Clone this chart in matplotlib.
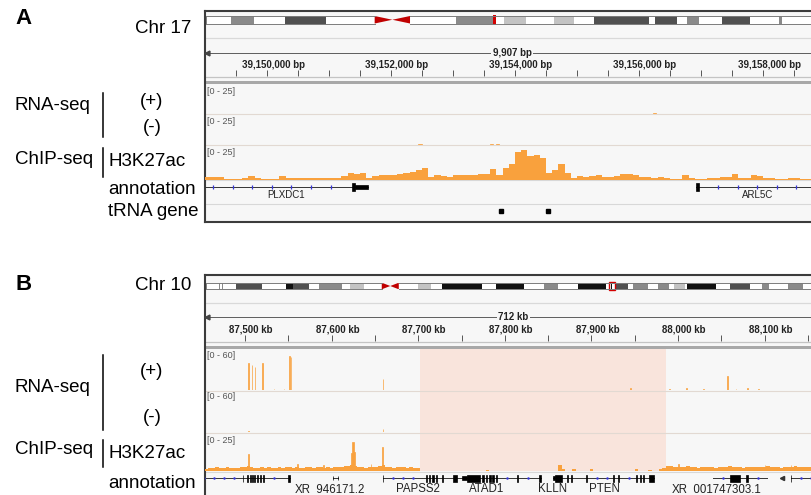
import numpy as np
import matplotlib
matplotlib.use("Agg")
import matplotlib.pyplot as plt
from matplotlib.patches import Rectangle, Polygon
import matplotlib.transforms as mtransforms

plt.rcParams['font.family'] = ['Liberation Sans', 'DejaVu Sans']

# ====================== DATA : panel A (chr17, bp) ======================
A_chrom = "Chr 17"
A_chrom_len_mb = 83.26
A_band_start_mb = [3.39, 10.71, 33.9, 40.5, 47.3, 52.7, 60.9, 65.35, 70.1, 77.8]
A_band_end_mb = [6.51, 16.27, 39.4, 43.4, 49.9, 60.2, 64.0, 66.98, 73.9, 78.2]
A_band_stain = ['gpos50', 'gpos75', 'gpos50', 'gpos25', 'gpos25', 'gpos75',
                'gpos75', 'gpos50', 'gpos75', 'gpos50']
A_centromere_mb = [22.9, 27.7]
A_locus_mb = [39.0, 39.35]
A_view = [39149000, 39158907]
A_span_label = "9,907 bp"
A_tick_step = 500
A_label_step = 2000
A_unit = "bp"
A_ranges = [25, 25, 25]
A_chip_bin = 100
A_chip_values = [1.9, 1.9, 1.9, 0.4, 0.6, 0.6, 1.5, 2.8, 1.0, 0.4,
                 0.4, 0.6, 2.8, 1.5, 0.9, 1.0, 0.8, 1.1, 0.9, 1.0,
                 1.2, 0.9, 2.5, 4.8, 4.6, 4.9, 1.5, 2.5, 3.2, 3.4,
                 3.5, 4.0, 5.5, 5.8, 7.5, 9.5, 2.0, 3.5, 3.0, 1.6,
                 3.6, 3.5, 3.7, 3.6, 4.3, 4.5, 8.0, 3.5, 9.5, 12.5,
                 22.0, 23.5, 19.0, 19.5, 17.0, 5.0, 7.5, 12.0, 5.5, 1.2,
                 2.4, 2.0, 3.0, 3.8, 2.0, 1.6, 3.0, 4.0, 4.0, 3.6,
                 1.6, 1.6, 1.5, 1.7, 1.4, 0.4, 0.6, 3.2, 1.2, 0.6,
                 0.3, 1.2, 1.3, 1.6, 1.6, 4.0, 1.2, 1.2, 3.2, 3.0,
                 1.2, 1.2, 0.4, 0.5, 1.2, 1.2, 0.4, 0.4, 0.4]
A_rna_plus_start = [39156220]
A_rna_plus_end = [39156270]
A_rna_plus_val = [0.6]
A_rna_minus_start = [39152440, 39153600, 39153690]
A_rna_minus_end = [39152500, 39153650, 39153740]
A_rna_minus_val = [0.5, 0.5, 0.5]
A_gene_names = ["PLXDC1", "ARL5C"]
A_gene_start = [39140000, 39156915]
A_gene_end = [39151630, 39170000]
A_exon_start = [[39151370, 39151420], [39156915]]
A_exon_end = [[39151420, 39151630], [39156965]]
A_exon_tall = [[True, False], [True]]
A_trna_pos = [39153774, 39154532]

# ====================== DATA : panel B (chr10, kb) ======================
B_chrom = "Chr 10"
B_chrom_len_mb = 133.8
B_band_start_mb = [2.8, 3.4, 6.5, 17.35, 18.9, 24.5, 31.2, 46.0, 51.4, 63.1, 73.5,
                   80.9, 87.95, 88.9, 92.8, 98.2, 101.7, 104.5, 113.9, 120.8, 126.4]
B_band_end_mb = [3.0, 3.6, 12.1, 18.9, 22.3, 29.5, 34.3, 49.0, 59.9, 69.2, 76.6,
                 87.0, 88.3, 91.7, 96.1, 100.6, 104.1, 110.8, 118.2, 122.3, 129.7]
B_band_stain = ['gpos50', 'gpos50', 'gpos75', 'gpos100', 'gpos75', 'gpos50', 'gpos25',
                'gpos25', 'gpos100', 'gpos100', 'gpos50', 'gpos100', 'gpos100', 'gpos75',
                'gpos50', 'gpos50', 'gpos25', 'gpos100', 'gpos75', 'gpos50', 'gpos50']
B_centromere_mb = [38.2, 41.9]
B_locus_mb = [87.6, 88.9]
B_view = [87453.8, 88165.8]
B_span_label = "712 kb"
B_tick_step = 50
B_label_step = 100
B_unit = "kb"
B_ranges = [60, 60, 25]
B_highlight = [87702, 87986]
B_chip_bin = 4
B_chip_left_flank = [1.6, 2.0, 1.8, 2.4, 1.9, 2.2, 2.6, 2.0, 2.3, 2.1,
                     2.5, 2.8, 3.4, 2.6, 2.2, 2.0, 2.4, 2.1, 2.7, 2.3,
                     2.0, 2.5, 2.2, 2.9, 2.4, 2.1, 2.6, 2.3, 2.0, 2.8,
                     2.4, 2.2, 2.5, 3.0, 2.3, 2.6, 2.1, 2.4, 2.7, 2.9,
                     3.2, 3.6, 4.2, 3.4, 2.8, 2.5, 2.2, 2.6, 2.4, 2.9,
                     3.3, 3.8, 2.9, 2.5, 2.3, 2.6, 2.4, 2.8, 2.2, 2.5,
                     2.3, 2.0]
B_chip_highlight = [0, 0, 0, 0, 0, 0, 0, 0, 0, 0,
                    0, 0, 0, 0, 0, 0, 0, 0, 0, 1.0,
                    0, 0, 0, 0, 0, 0, 0, 0, 0, 0,
                    0, 0, 0, 0, 0, 0, 0, 0, 0, 0,
                    4.0, 1.2, 0, 0, 1.5, 0, 0, 0, 0, 1.2,
                    0, 0, 0, 0, 0, 0, 0, 0, 0, 0,
                    0, 0, 1.4, 0, 0, 0, 1.0, 0, 0, 1.3,
                    1.8]
B_chip_right_flank = [3.4, 3.2, 2.6, 2.9, 2.4, 2.7, 3.1, 2.5, 2.8, 2.3,
                      2.6, 3.0, 2.4, 2.7, 2.2, 2.9, 2.5, 2.8, 3.3, 2.6,
                      2.4, 2.9, 2.3, 2.7, 2.5, 3.0, 2.6, 2.8, 2.4, 3.4,
                      2.7, 2.5, 2.9, 2.3, 2.6, 2.8, 2.4, 3.1, 2.6, 2.5,
                      2.9, 2.4, 2.7, 2.5, 2.8]
B_chip_peak_start = [87503.0, 87560.0, 87590.0, 87622.8, 87624.0, 87625.4, 87645.0,
                     87658.7, 88000.0, 88100.0, 88130.0]
B_chip_peak_end = [87504.2, 87561.0, 87591.0, 87624.0, 87625.4, 87626.6, 87646.0,
                   87659.9, 88001.0, 88101.0, 88131.0]
B_chip_peak_val = [11.5, 4.6, 4.2, 12.0, 19.6, 13.0, 5.0, 16.2, 4.6, 4.2, 4.0]
B_rna_plus_start = [87503.3, 87507.7, 87511.1, 87520.0, 87533.0, 87544.5, 87550.6,
                    87552.6, 87658.8, 87944.0, 87989.5, 88009.5, 88028.5, 88056.0,
                    88066.5, 88079.5, 88092.5]
B_rna_plus_end = [87504.3, 87508.5, 87511.9, 87521.0, 87534.0, 87545.5, 87551.6,
                  87553.6, 87659.8, 87945.2, 87990.5, 88010.5, 88029.5, 88057.2,
                  88067.5, 88080.5, 88093.5]
B_rna_plus_val = [40.5, 37.5, 34.5, 40.5, 1.5, 1.5, 51.0, 50.0, 16.5, 3.0, 1.5, 2.5,
                  1.2, 21.0, 1.5, 2.5, 1.2]
B_rna_minus_start = [87503.3, 87658.8]
B_rna_minus_end = [87504.3, 87659.8]
B_rna_minus_val = [1.5, 4.5]
B_gene_start = [87430.0, 87601.6, 87659.0, 87742.0, 87855.5, 87866.0, 88040.4, 88130.0]
B_gene_end = [87551.4, 87607.4, 87745.0, 87841.5, 87866.0, 87972.0, 88102.8, 88200.0]
B_exon_start = [[87497.4, 87501.8, 87505.3, 87507.6, 87510.0, 87513.4, 87516.8, 87520.3, 87550.2],
                [87601.4, 87607.2],
                [87659.0, 87708.5, 87712.0, 87716.5, 87721.0, 87727.0, 87740.0],
                [87750.0, 87756.0, 87774.0, 87778.5, 87782.0, 87785.5, 87790.0, 87813.5, 87840.0],
                [87855.5, 87857.5],
                [87871.5, 87877.0, 87894.0, 87925.0, 87931.0, 87952.0, 87956.0, 87959.5, 87966.0],
                [88060.0, 88079.0],
                [88130.0]]
B_exon_end = [[87498.0, 87503.5, 87506.5, 87508.8, 87511.2, 87514.6, 87518.0, 87521.5, 87551.4],
              [87601.8, 87607.6],
              [87659.8, 87709.7, 87713.2, 87717.7, 87722.2, 87728.2, 87745.0],
              [87756.0, 87771.0, 87775.5, 87780.0, 87783.5, 87787.0, 87791.5, 87815.0, 87841.5],
              [87857.5, 87866.0],
              [87872.5, 87878.0, 87895.2, 87926.2, 87932.2, 87953.2, 87957.2, 87960.7, 87972.0],
              [88071.6, 88080.5],
              [88131.0]]
B_exon_tall = [[True, True, True, True, True, True, True, True, True],
               [False, False],
               [True, True, True, True, True, True, True],
               [False, True, True, True, True, True, True, True, True],
               [False, True],
               [True, True, True, True, True, True, True, True, True],
               [True, True],
               [True]]
B_label_names = ["XR_946171.2", "PAPSS2", "ATAD1", "KLLN", "PTEN", "XR_001747303.1"]
B_label_kb = [87598.0, 87700.0, 87779.0, 87855.5, 87915.5, 88045.0]
B_arrow_kb = [88120.0]

# ====================== STYLE / LAYOUT ======================
W, H, DPI = 811, 495, 100
ORANGE = '#f9a13d'
BG = '#f7f7f7'
SEP = '#d8d8d8'
BORDER = '#3c3c3c'
BLUE = '#3535d6'
RED = '#d40000'
STAIN = {'gpos25': '#c3c3c3', 'gpos50': '#8a8a8a', 'gpos75': '#505050', 'gpos100': '#111111'}

fig = plt.figure(figsize=(W / DPI, H / DPI), dpi=DPI)


def px_axes(x0, y0, x1, y1):
    return fig.add_axes([x0 / W, 1 - y1 / H, (x1 - x0) / W, (y1 - y0) / H])


canvas = px_axes(0, 0, W, H)
canvas.set_xlim(0, W)
canvas.set_ylim(H, 0)
canvas.axis('off')

LAB = dict(fontsize=13.5, color='black', va='center')


def left_labels(y_letter, letter, chrom, y_chr, y_rna, y_plus, y_minus, rna_bar,
                y_chip, y_h3, chip_bar, extra):
    canvas.text(24, y_letter, letter, fontsize=16, fontweight='bold', ha='center', va='center')
    canvas.text(191, y_chr, chrom, ha='right', **LAB)
    canvas.text(15, y_rna, "RNA-seq", ha='left', **LAB)
    canvas.plot([103, 103], rna_bar, color='black', lw=1.1)
    canvas.text(152, y_plus, "(+)", ha='center', **LAB)
    canvas.text(152, y_minus, "(-)", ha='center', **LAB)
    canvas.text(15, y_chip, "ChIP-seq", ha='left', **LAB)
    canvas.plot([103, 103], chip_bar, color='black', lw=1.1)
    canvas.text(108, y_h3, "H3K27ac", ha='left', **LAB)
    for name, yy in extra:
        canvas.text(108, yy, name, ha='left', **LAB)


def draw_ideogram(ax, length, starts, ends, stains, cen, locus, filled):
    ax.set_xlim(0, length)
    ax.set_ylim(0, 1)
    ax.axis('off')
    ax.add_patch(Rectangle((0, 0), cen[0], 1, fc='white', ec='none'))
    ax.add_patch(Rectangle((cen[1], 0), length - cen[1], 1, fc='white', ec='none'))
    for s, e, st in zip(starts, ends, stains):
        ax.add_patch(Rectangle((s, 0), e - s, 1, fc=STAIN[st], ec='none'))
    for seg in ((0, cen[0]), (cen[1], length)):
        ax.plot(seg, [1, 1], color='#7c7c7c', lw=0.7, clip_on=False)
        ax.plot(seg, [0, 0], color='#7c7c7c', lw=0.7, clip_on=False)
    ax.plot([0, 0], [0, 1], color='#7c7c7c', lw=0.7, clip_on=False)
    mid = (cen[0] + cen[1]) / 2
    ax.add_patch(Polygon([(cen[0], 0), (cen[0], 1), (mid, 0.5)], closed=True, fc='#c00000', ec='none'))
    ax.add_patch(Polygon([(cen[1], 0), (cen[1], 1), (mid, 0.5)], closed=True, fc='#c00000', ec='none'))
    if filled:
        ax.add_patch(Rectangle((locus[0], -0.2), locus[1] - locus[0], 1.4, fc=RED, ec='none', clip_on=False))
    else:
        ax.add_patch(Rectangle((locus[0], -0.15), locus[1] - locus[0], 1.3, fc='none', ec=RED,
                               lw=1.0, clip_on=False))


def draw_ruler(ax, view, step, lstep, unit, span, y_line, y_lab, y_t0, y_t1, y_sep, band):
    x0, x1 = view
    ax.plot([x0, x1], [y_line, y_line], color='#444444', lw=0.6, zorder=2)
    arr = mtransforms.offset_copy(ax.transData, fig=fig, x=2, y=0, units='dots')
    ax.plot([x0], [y_line], marker='<', ms=3.5, color='#444444', transform=arr, clip_on=False, zorder=3)
    ax.text((x0 + x1) / 2, y_line, span, ha='center', va='center', fontsize=7, fontweight='bold',
            color='#222222', bbox=dict(fc=BG, ec='none', pad=1.2), zorder=4)
    ticks = np.arange(np.ceil(x0 / step) * step, x1, step)
    ax.vlines(ticks, y_t0, y_t1, color='#555555', lw=0.7)
    off = mtransforms.offset_copy(ax.transData, fig=fig, x=6, y=0, units='dots')
    for t in ticks:
        if int(round(t)) % lstep == 0:
            ax.text(t, y_lab, f"{int(round(t)):,} {unit}", transform=off, ha='center', va='center',
                    fontsize=7, fontweight='bold', color='#222222')
    ax.axhline(y_sep, color='#c4c4c4', lw=0.9)
    ax.axhspan(band[0], band[1], color='#a8a8a8', lw=0)


def track_axes(x0, x1, y0, y1, view, top):
    ax = px_axes(x0, y0, x1, y1)
    ax.set_xlim(*view)
    ax.set_ylim(0, top)
    ax.axis('off')
    return ax


def spikes(ax, starts, ends, vals):
    s = np.array(starts)
    e = np.array(ends)
    ax.bar(s, vals, width=e - s, align='edge', color=ORANGE, edgecolor=ORANGE, lw=0.5)


def binned(ax, start, binw, vals):
    vals = np.asarray(vals, dtype=float)
    edges = start + binw * np.arange(len(vals) + 1)
    ax.fill_between(edges, np.append(vals, vals[-1]), step='post', color=ORANGE, lw=0)


def transcript(ax, start, end, ex_s, ex_e, ex_t, y, tall, short, mark_step, mark_kw):
    ax.plot([start, end], [y, y], color='#333333', lw=0.7, zorder=3)
    # strand glyphs along intronic gaps
    bounds = [start] + [v for pair in zip(ex_s, ex_e) for v in pair] + [end]
    for a, b in zip(bounds[0::2], bounds[1::2]):
        if b - a > 1.6 * mark_step:
            pos = np.arange(a + mark_step, b - 0.5 * mark_step, mark_step)
            ax.plot(pos, np.full(len(pos), y), linestyle='none', zorder=4, **mark_kw)
    for s, e, t in zip(ex_s, ex_e, ex_t):
        h = tall if t else short
        ax.add_patch(Rectangle((s, y - h / 2), e - s, h, fc='black', ec='black', lw=0.5, zorder=5))


def main_axes(x0, y0, x1, y1, view):
    ax = px_axes(x0, y0, x1, y1)
    ax.set_xlim(*view)
    ax.set_ylim(y1, y0)
    ax.set_facecolor(BG)
    ax.set_xticks([])
    ax.set_yticks([])
    for sp in ax.spines.values():
        sp.set_color(BORDER)
        sp.set_linewidth(1.5)
    return ax


def range_label(ax, y, rng):
    ax.text(0.004, y, f"[0 - {rng}]", transform=ax.get_yaxis_transform(), fontsize=6.5,
            color='#555555', ha='left', va='center')


# ====================== PANEL A ======================
A_X0 = 205
A_X1 = A_X0 + (A_view[1] - A_view[0]) * 0.062
left_labels(19, "A", A_chrom, 28.5, 105, 102, 127, [93, 137], 160, 162, [148, 177],
            [("annotation", 190), ("tRNA gene", 212)])

axA = main_axes(A_X0, 11, A_X1, 221.5, A_view)
ideoA = px_axes(A_X0 + 1, 16, A_X1, 23.5)
draw_ideogram(ideoA, A_chrom_len_mb, A_band_start_mb, A_band_end_mb, A_band_stain,
              A_centromere_mb, A_locus_mb, True)
axA.axhline(38, color='#d9d9d9', lw=0.9)
draw_ruler(axA, A_view, A_tick_step, A_label_step, A_unit, A_span_label,
           53, 65, 70, 76, 77, (81, 84.5))
for yy in (114.5, 144.8):
    axA.axhline(yy, color='#e2d9d2', lw=0.8)
axA.axhline(180, color=SEP, lw=0.8)
axA.axhline(203.5, color=SEP, lw=0.8)
range_label(axA, 92, A_ranges[0])
range_label(axA, 122, A_ranges[1])
range_label(axA, 152.5, A_ranges[2])

tA1 = track_axes(A_X0, A_X1, 86, 114, A_view, A_ranges[0])
spikes(tA1, A_rna_plus_start, A_rna_plus_end, A_rna_plus_val)
tA2 = track_axes(A_X0, A_X1, 116, 144.5, A_view, A_ranges[1])
spikes(tA2, A_rna_minus_start, A_rna_minus_end, A_rna_minus_val)
tA3 = track_axes(A_X0, A_X1, 148, 179.5, A_view, A_ranges[2])
binned(tA3, A_view[0], A_chip_bin, A_chip_values)

markA = dict(marker='|', ms=3.2, mew=0.9, color=BLUE)
for gs, ge, es, ee, et, name in zip(A_gene_start, A_gene_end, A_exon_start, A_exon_end,
                                    A_exon_tall, A_gene_names):
    transcript(axA, gs, ge, es, ee, et, 187, 8, 4.5, 315, markA)
    vis0, vis1 = max(gs, A_view[0]), min(ge, A_view[1])
    axA.text((vis0 + vis1) / 2, 195.5, name, ha='center', va='center', fontsize=7, color='#222222')
axA.plot(A_trna_pos, np.full(len(A_trna_pos), 211), linestyle='none', marker='s', ms=2.6,
         color='black')

# ====================== PANEL B ======================
B_X0 = 205
B_X1 = B_X0 + (B_view[1] - B_view[0]) * 0.866
left_labels(285, "B", B_chrom, 285, 387, 372, 418, [355, 430], 450, 453, [440, 467],
            [("annotation", 483)])

axB = main_axes(B_X0, 275, B_X1, 520, B_view)
axB.add_patch(Rectangle((B_highlight[0], 349), B_highlight[1] - B_highlight[0], 122,
                        fc='#f9e4dc', ec='none', zorder=0.5))
ideoB = px_axes(B_X0 + 1, 282.7, B_X1, 289.3)
draw_ideogram(ideoB, B_chrom_len_mb, B_band_start_mb, B_band_end_mb, B_band_stain,
              B_centromere_mb, B_locus_mb, False)
axB.axhline(303, color='#d9d9d9', lw=0.9)
draw_ruler(axB, B_view, B_tick_step, B_label_step, B_unit, B_span_label,
           317, 329, 335, 340.5, 341.5, (345.5, 348.5))
for yy in (390.5, 432.5):
    axB.axhline(yy, color='#e2d9d2', lw=0.8)
axB.axhline(471.5, color=SEP, lw=0.8)
range_label(axB, 355, B_ranges[0])
range_label(axB, 396, B_ranges[1])
range_label(axB, 440, B_ranges[2])

tB1 = track_axes(B_X0, B_X1, 350, 390, B_view, B_ranges[0])
spikes(tB1, B_rna_plus_start, B_rna_plus_end, B_rna_plus_val)
tB2 = track_axes(B_X0, B_X1, 392, 432, B_view, B_ranges[1])
spikes(tB2, B_rna_minus_start, B_rna_minus_end, B_rna_minus_val)
tB3 = track_axes(B_X0, B_X1, 434, 471, B_view, B_ranges[2])
binned(tB3, B_view[0], B_chip_bin, B_chip_left_flank + B_chip_highlight + B_chip_right_flank)
spikes(tB3, B_chip_peak_start, B_chip_peak_end, B_chip_peak_val)

markB = dict(marker='o', ms=1.8, mew=0, color=BLUE)
for gs, ge, es, ee, et in zip(B_gene_start, B_gene_end, B_exon_start, B_exon_end, B_exon_tall):
    transcript(axB, gs, ge, es, ee, et, 478.3, 7.5, 4, 11.5, markB)
axB.plot(B_arrow_kb, np.full(len(B_arrow_kb), 478.3), linestyle='none', marker='<', ms=3,
         color='#333333')
for name, pos in zip(B_label_names, B_label_kb):
    axB.text(pos, 489, name, ha='center', va='center', fontsize=8.3, color='#222222')

fig.savefig("out.png", dpi=DPI)
